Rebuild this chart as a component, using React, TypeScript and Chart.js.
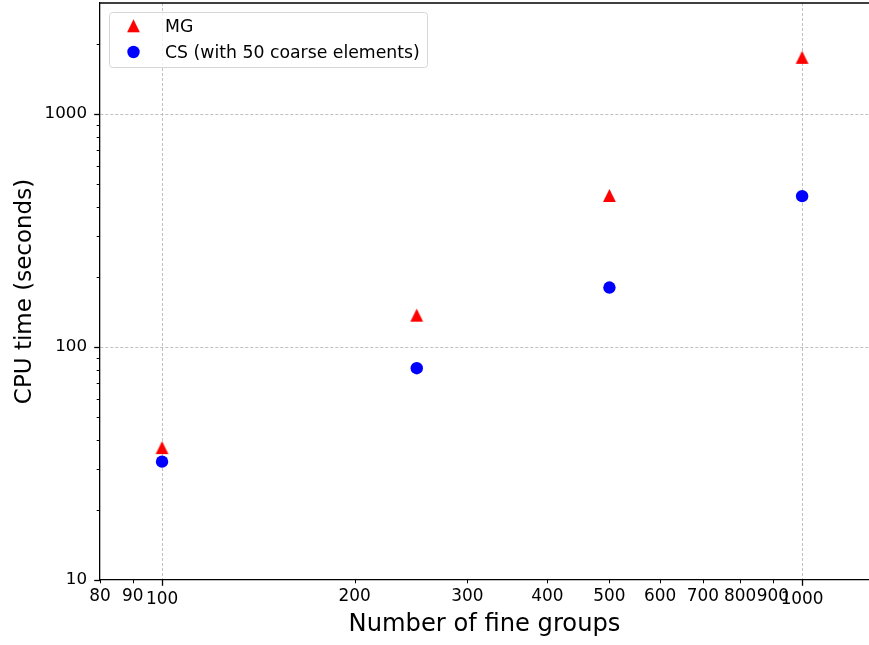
import React, { useEffect, useRef } from 'react';
import { Chart, registerables } from 'chart.js';

Chart.register(...registerables);

// ---- data ----
const fineGroups = [100, 250, 500, 1000];
const mgTimes = [37.0, 137, 447, 1750];
const csTimes = [32.2, 81.1, 180, 444];
const seriesLabels = ['MG', 'CS (with 50 coarse elements)'];
const xTickValues = [80, 90, 100, 200, 300, 400, 500, 600, 700, 800, 900, 1000];
const xMajorTicks = [100, 1000];
const yMajorTicks = [10, 100, 1000];
const yMinorTicks = [20, 30, 40, 50, 60, 70, 80, 90, 200, 300, 400, 500, 600, 700, 800, 900, 2000];
const xTitle = 'Number of fine groups';
const yTitle = 'CPU time (seconds)';
const X_MIN = 80;
const X_MAX = 1272;
const Y_MIN = 10;
const Y_MAX = 2995;

const FONT = '"DejaVu Sans", sans-serif';
const RED = '#ff0000';
const BLUE = '#0000ff';

function makeTriangle(size: number, color: string): HTMLCanvasElement {
  const c = document.createElement('canvas');
  const n = 15;
  c.width = n;
  c.height = n;
  const g = c.getContext('2d')!;
  const h = size / 2;
  const cx = n / 2;
  const cy = n / 2;
  g.fillStyle = color;
  g.beginPath();
  g.moveTo(cx, cy - h);
  g.lineTo(cx + h, cy + h);
  g.lineTo(cx - h, cy + h);
  g.closePath();
  g.fill();
  return c;
}

function zeroPadding(scale: any) {
  scale.paddingTop = 0;
  scale.paddingBottom = 0;
  scale.paddingLeft = 0;
  scale.paddingRight = 0;
}

export default function App() {
  const ref = useRef<HTMLCanvasElement | null>(null);

  useEffect(() => {
    document.body.style.margin = '0';
    const canvas = ref.current;
    if (!canvas) return;
    const tri = makeTriangle(12.8, RED);

    const decor = {
      id: 'decor',
      afterDraw(chart: any) {
        const ctx = chart.ctx as CanvasRenderingContext2D;
        const area = chart.chartArea;
        const xs = chart.scales.x;
        const ys = chart.scales.y;
        ctx.save();
        // top spine
        ctx.strokeStyle = '#000';
        ctx.lineWidth = 1.3;
        ctx.beginPath();
        ctx.moveTo(area.left - 0.65, area.top);
        ctx.lineTo(area.right, area.top);
        ctx.stroke();
        // x tick marks
        for (const v of xTickValues) {
          const major = xMajorTicks.includes(v);
          const px = Math.round(xs.getPixelForValue(v)) + 0.5;
          ctx.lineWidth = major ? 1.3 : 1;
          ctx.beginPath();
          ctx.moveTo(px, area.bottom);
          ctx.lineTo(px, area.bottom + (major ? 5.8 : 3.3));
          ctx.stroke();
        }
        // y tick marks
        const yAll = [...yMajorTicks, ...yMinorTicks];
        for (const v of yAll) {
          if (v < Y_MIN || v > Y_MAX) continue;
          const major = yMajorTicks.includes(v);
          const py = Math.round(ys.getPixelForValue(v)) + 0.5;
          ctx.lineWidth = major ? 1.3 : 1;
          ctx.beginPath();
          ctx.moveTo(area.left, py);
          ctx.lineTo(area.left - (major ? 5.8 : 3.3), py);
          ctx.stroke();
        }
        // legend
        const bx = 109.5, by = 12.5, bw = 318, bh = 55, r = 3;
        ctx.beginPath();
        ctx.moveTo(bx + r, by);
        ctx.lineTo(bx + bw - r, by);
        ctx.arcTo(bx + bw, by, bx + bw, by + r, r);
        ctx.lineTo(bx + bw, by + bh - r);
        ctx.arcTo(bx + bw, by + bh, bx + bw - r, by + bh, r);
        ctx.lineTo(bx + r, by + bh);
        ctx.arcTo(bx, by + bh, bx, by + bh - r, r);
        ctx.lineTo(bx, by + r);
        ctx.arcTo(bx, by, bx + r, by, r);
        ctx.closePath();
        ctx.fillStyle = 'rgba(255,255,255,0.8)';
        ctx.fill();
        ctx.strokeStyle = '#d6d6d6';
        ctx.lineWidth = 1;
        ctx.stroke();

        ctx.drawImage(tri, 133.5 - tri.width / 2, 25.8 - tri.height / 2);
        ctx.fillStyle = BLUE;
        ctx.beginPath();
        ctx.arc(133.5, 52, 6.2, 0, Math.PI * 2);
        ctx.fill();

        ctx.fillStyle = '#000';
        ctx.font = '17.3px ' + FONT;
        ctx.textBaseline = 'alphabetic';
        ctx.textAlign = 'left';
        ctx.fillText(seriesLabels[0], 165, 32.3);
        ctx.fillText(seriesLabels[1], 165, 58.3);
        ctx.restore();
      },
    };

    const chart = new Chart(canvas, {
      type: 'scatter',
      data: {
        datasets: [
          {
            label: seriesLabels[0],
            data: fineGroups.map((x, i) => ({ x, y: mgTimes[i] })),
            pointStyle: tri as any,
            pointRadius: 6.5,
            pointBackgroundColor: RED,
            pointBorderWidth: 0,
            showLine: false,
          },
          {
            label: seriesLabels[1],
            data: fineGroups.map((x, i) => ({ x, y: csTimes[i] })),
            pointStyle: 'circle',
            pointRadius: 6.2,
            pointBackgroundColor: BLUE,
            pointBorderColor: BLUE,
            pointBorderWidth: 0,
            showLine: false,
          },
        ],
      },
      plugins: [decor],
      options: {
        responsive: false,
        animation: false,
        devicePixelRatio: 1,
        layout: { autoPadding: false, padding: { top: 3, right: 0, left: 0, bottom: 0 } },
        plugins: {
          legend: { display: false },
          tooltip: { enabled: false },
        },
        scales: {
          x: {
            type: 'logarithmic',
            position: 'bottom',
            min: X_MIN,
            max: X_MAX,
            afterBuildTicks: (scale: any) => {
              scale.ticks = xTickValues.map((v) => ({ value: v, major: xMajorTicks.includes(v) }));
            },
            afterFit: (scale: any) => {
              scale.height = 65;
              zeroPadding(scale);
            },
            ticks: {
              autoSkip: false,
              maxRotation: 0,
              minRotation: 0,
              padding: 6.3,
              color: '#000',
              font: (ctx: any) => ({
                family: FONT,
                size: 16.9,
                lineHeight: ctx.tick && xMajorTicks.includes(ctx.tick.value) ? '26px' : '20px',
              }),
              callback: (v: any) => String(v),
            },
            grid: {
              drawTicks: false,
              lineWidth: 0.8,
              color: (ctx: any) =>
                ctx.tick && xMajorTicks.includes(ctx.tick.value) ? '#b0b0b0' : 'rgba(0,0,0,0)',
            },
            border: { display: true, color: '#000', width: 1.3, dash: [3, 2] },
            title: {
              display: true,
              text: xTitle,
              color: '#000',
              font: { family: FONT, size: 24.2 },
              padding: { top: 0, bottom: 5.8 },
            },
          },
          y: {
            type: 'logarithmic',
            position: 'left',
            min: Y_MIN,
            max: Y_MAX,
            afterBuildTicks: (scale: any) => {
              scale.ticks = yMajorTicks.map((v) => ({ value: v, major: true }));
            },
            afterFit: (scale: any) => {
              scale.width = 100;
              zeroPadding(scale);
            },
            ticks: {
              autoSkip: false,
              padding: 13,
              color: '#000',
              font: { family: FONT, size: 16.7 },
              callback: (v: any) => String(v),
            },
            grid: {
              drawTicks: false,
              lineWidth: 0.8,
              color: (ctx: any) =>
                ctx.tick && (ctx.tick.value === 100 || ctx.tick.value === 1000) ? '#b0b0b0' : 'rgba(0,0,0,0)',
            },
            border: { display: true, color: '#000', width: 1.3, dash: [3, 2] },
            title: {
              display: true,
              text: yTitle,
              color: '#000',
              font: { family: FONT, size: 23 },
              padding: { top: 11.2, bottom: 0 },
            },
          },
        },
      },
    } as any);

    return () => {
      chart.destroy();
    };
  }, []);

  return (
    <div style={{ width: 869, height: 645 }}>
      <canvas ref={ref} width={869} height={645} style={{ display: 'block' }} />
    </div>
  );
}
